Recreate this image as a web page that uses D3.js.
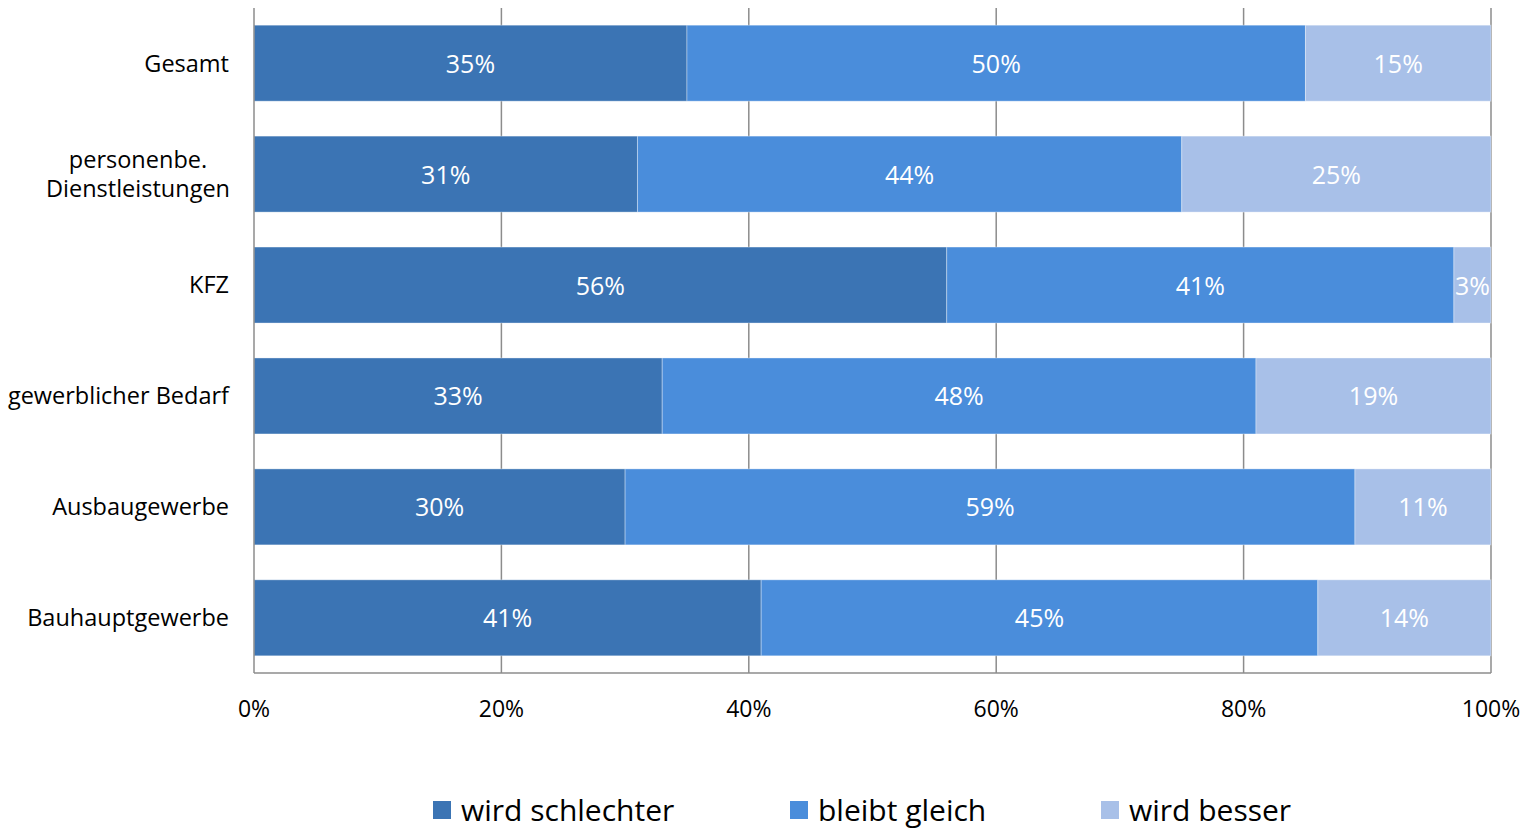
<!DOCTYPE html>
<html>
<head>
<meta charset="utf-8">
<script src="https://cdn.jsdelivr.net/npm/d3@7"></script>
<style>
  body { margin: 0; background: #fff; }
  svg { display: block; font-family: "Open Sans", Lato, sans-serif; }
</style>
</head>
<body>
<svg id="chart" width="1524" height="829"></svg>
<script>
// Categories, top to bottom
const categories = ["Gesamt", "personenbe.\nDienstleistungen", "KFZ", "gewerblicher Bedarf", "Ausbaugewerbe", "Bauhauptgewerbe"];
// Series shares in percent
const schlechter = [35, 31, 56, 33, 30, 41];
const gleich     = [50, 44, 41, 48, 59, 45];
const besser     = [15, 25, 3, 19, 11, 14];
const seriesNames = ["wird schlechter", "bleibt gleich", "wird besser"];
const tickValues = [0, 20, 40, 60, 80, 100];

const colors = ["#3B74B4", "#4A8DDB", "#A8C0E8"];

const svg = d3.select("#chart");
const margin = { left: 254, right: 1491, top: 8, bottom: 673 };

const x = d3.scaleLinear().domain([0, 100]).range([margin.left, margin.right]);
const y = d3.scaleBand().domain(categories).range([margin.top, margin.bottom]).paddingInner(0.315).paddingOuter(0.155);

// vertical gridlines
svg.append("g").selectAll("line").data(tickValues.filter(d => d > 0)).join("line")
  .attr("x1", d => x(d)).attr("x2", d => x(d))
  .attr("y1", margin.top).attr("y2", margin.bottom)
  .attr("stroke", "#8c8c8c").attr("stroke-width", 1.5);

const rows = categories.map((c, i) => {
  const vals = [schlechter[i], gleich[i], besser[i]];
  let acc = 0;
  return vals.map((v, k) => { const s = { cat: c, k, v, x0: acc, x1: acc + v }; acc += v; return s; });
}).flat();

const segs = svg.append("g").selectAll("g").data(rows).join("g");
segs.append("rect")
  .attr("x", d => x(d.x0)).attr("width", d => x(d.x1) - x(d.x0))
  .attr("y", d => y(d.cat)).attr("height", y.bandwidth())
  .attr("fill", d => colors[d.k])
  .attr("stroke", "#ffffff").attr("stroke-opacity", 0.35).attr("stroke-width", 1);
segs.append("text")
  .attr("x", d => (x(d.x0) + x(d.x1)) / 2)
  .attr("y", d => y(d.cat) + y.bandwidth() / 2)
  .attr("dy", "0.38em")
  .attr("text-anchor", "middle")
  .attr("fill", "#ffffff").attr("font-size", 25)
  .text(d => d.v + "%");

// axes lines
svg.append("line").attr("x1", x(0)).attr("x2", x(0)).attr("y1", margin.top).attr("y2", margin.bottom)
  .attr("stroke", "#8c8c8c").attr("stroke-width", 1.5);
svg.append("line").attr("x1", x(0)).attr("x2", x(100)).attr("y1", margin.bottom).attr("y2", margin.bottom)
  .attr("stroke", "#8c8c8c").attr("stroke-width", 1.5);

// x tick labels
svg.append("g").selectAll("text").data(tickValues).join("text")
  .attr("x", d => x(d)).attr("y", 717)
  .attr("text-anchor", "middle").attr("font-size", 23).attr("fill", "#000")
  .text(d => d + "%");

// category labels
const catG = svg.append("g").selectAll("text").data(categories).join("text")
  .attr("font-size", 23.5).attr("fill", "#000")
  .attr("y", d => y(d) + y.bandwidth() / 2);
catG.each(function(d) {
  const lines = d.split("\n");
  const t = d3.select(this);
  lines.forEach((ln, i) => {
    t.append("tspan")
      .attr("dy", i === 0 ? (0.36 - (lines.length - 1) * 0.62) + "em" : "1.24em")
      .attr("text-anchor", lines.length > 1 ? "middle" : "end")
      .attr("x", lines.length > 1 ? 138 : 229)
      .text(ln);
  });
});

// legend
const legendX = [433, 790, 1101];
const leg = svg.append("g").selectAll("g").data(seriesNames).join("g")
  .attr("transform", (d, i) => `translate(${legendX[i]},0)`);
leg.append("rect").attr("x", 0).attr("y", 801).attr("width", 18).attr("height", 18).attr("fill", (d, i) => colors[i]);
leg.append("text").attr("x", 28).attr("y", 821).attr("font-size", 30).attr("fill", "#000").text(d => d);
</script>
</body>
</html>
